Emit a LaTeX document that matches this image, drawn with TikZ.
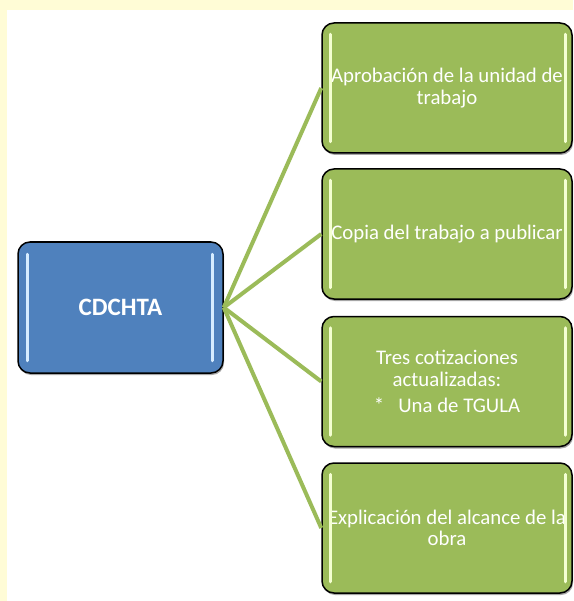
\documentclass[tikz,border=0pt]{standalone}
\usepackage{fontspec}
\setmainfont{Carlito}
\usetikzlibrary{calc,shadows}
\definecolor{bgyellow}{HTML}{FFFCD6}
\definecolor{boxblue}{HTML}{4F81BD}
\definecolor{boxgreen}{HTML}{9BBB59}
\definecolor{linegreen}{HTML}{9BBB59}
\definecolor{hiblue}{HTML}{D6ECFF}
\definecolor{higreen}{HTML}{F4FFD2}
\tikzset{
  glossbox/.style={draw=black, line width=1.5pt, rounded corners=12pt, rectangle,
    text=white, align=center, inner sep=0pt,
    drop shadow={shadow xshift=1pt, shadow yshift=-2pt, opacity=0.35, fill=black}},
  centerbox/.style={glossbox, fill=boxblue, minimum width=205pt, minimum height=131pt,
    font=\fontsize{25}{29}\selectfont\bfseries},
  itembox/.style={glossbox, fill=boxgreen, minimum width=250pt, minimum height=130pt,
    font=\fontsize{20.8}{21.5}\selectfont},
  conn/.style={draw=linegreen, line width=4pt},
  hiline/.style={line width=3pt, line cap=round}
}
\begin{document}
\begin{tikzpicture}[x=1pt,y=-1pt]
\fill[bgyellow] (0,0) rectangle (573,601);
\fill[white] (7,10) rectangle (573,601);
\useasboundingbox (0,0) rectangle (573,601);

\node[centerbox] (c) at (120.5,307.5) {CDCHTA};
\node[itembox] (g1) at (447,88) {Aprobación de la unidad de\\trabajo};
\node[itembox] (g2) at (447,234) {Copia del trabajo a publicar};
\node[itembox] (g3) at (447,381.5) {Tres cotizaciones\\actualizadas:\\[5pt]*\hspace{14pt}Una de TGULA};
\node[itembox] (g4) at (447,528) {Explicación del alcance de la\\obra};

\foreach \g in {g1,g2,g3,g4}{
  \draw[conn] (c.east) -- (\g.west);
  \draw[hiline, higreen] ($(\g.north west)+(9,12)$) -- ($(\g.south west)+(9,-12)$);
  \draw[hiline, higreen] ($(\g.north east)+(-7,12)$) -- ($(\g.south east)+(-7,-12)$);
}
\draw[hiline, hiblue] ($(c.north west)+(10,13)$) -- ($(c.south west)+(10,-13)$);
\draw[hiline, hiblue] ($(c.north east)+(-11,13)$) -- ($(c.south east)+(-11,-13)$);
\end{tikzpicture}
\end{document}
